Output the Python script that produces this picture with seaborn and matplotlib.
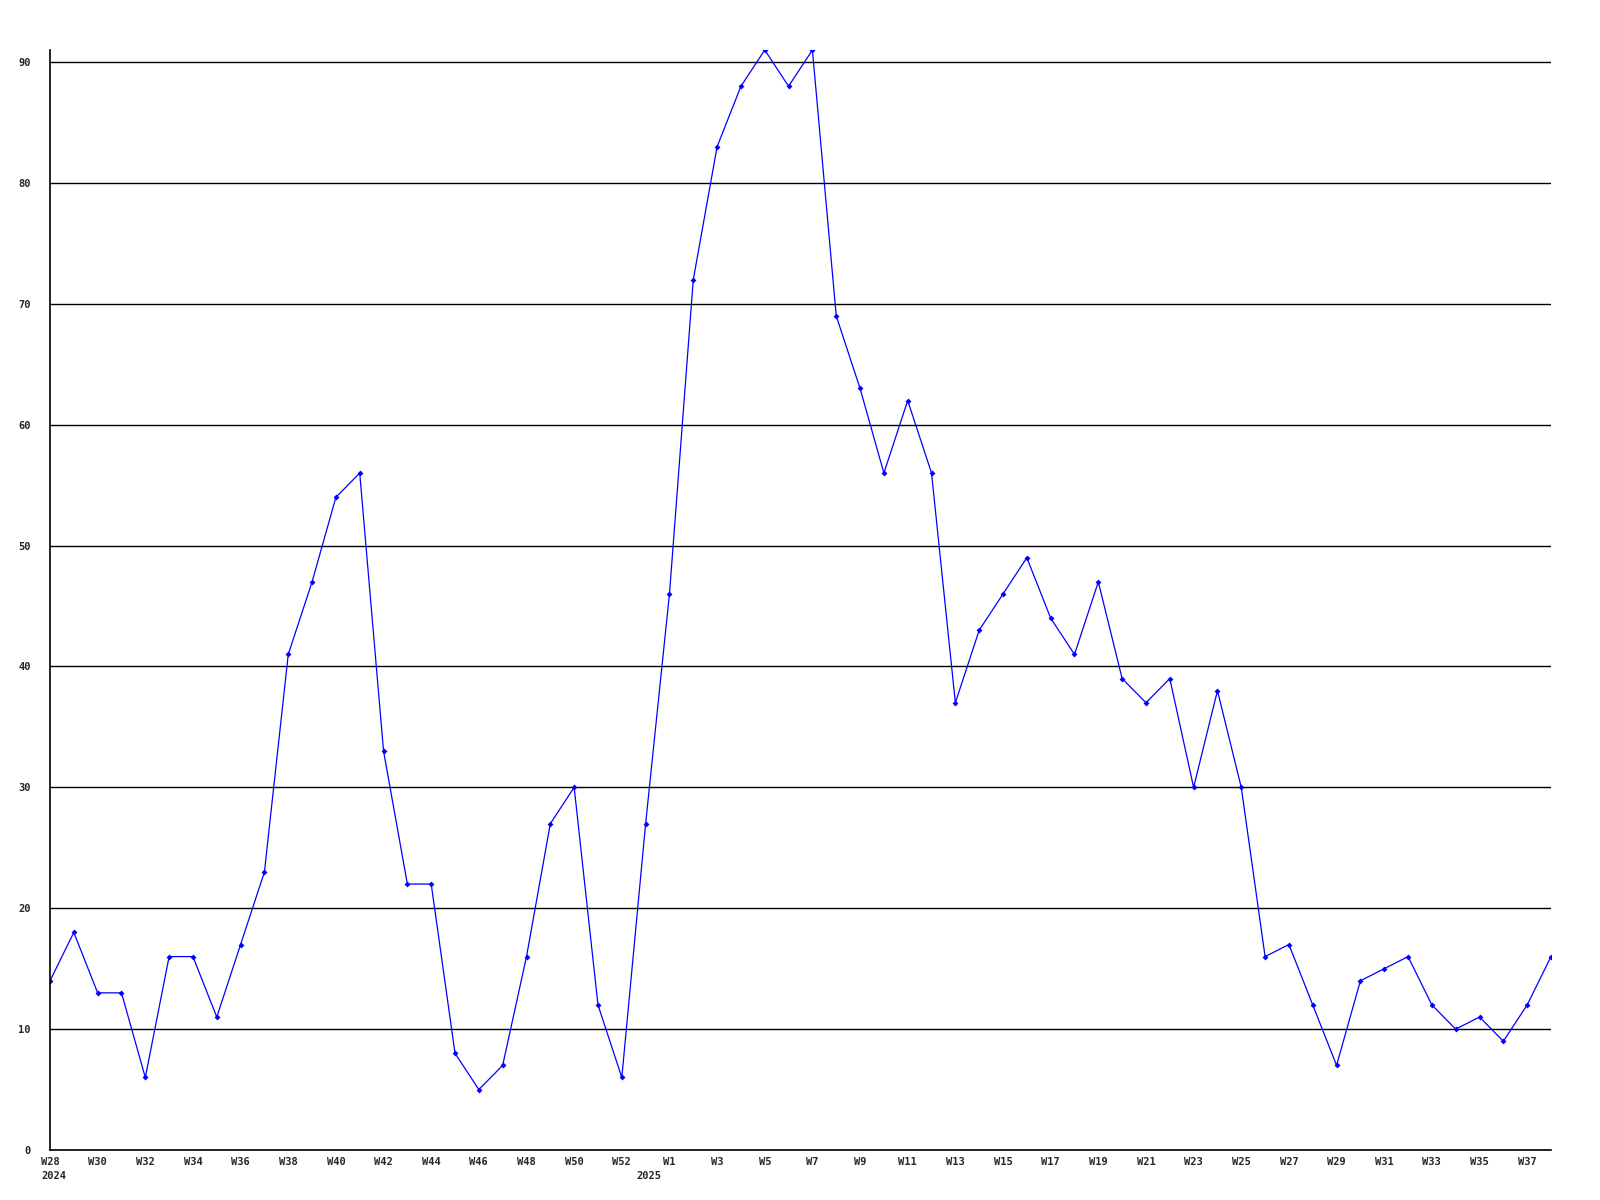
import matplotlib
matplotlib.use("Agg")
import matplotlib.pyplot as plt
import seaborn as sns
import pandas as pd

# weekly counts, W28 2024 .. W38 2025 (one extra point between W52 and W1)
weeks = ["W28", "W29", "W30", "W31", "W32", "W33", "W34", "W35", "W36", "W37",
         "W38", "W39", "W40", "W41", "W42", "W43", "W44", "W45", "W46", "W47",
         "W48", "W49", "W50", "W51", "W52", "W53",
         "W1", "W2", "W3", "W4", "W5", "W6", "W7", "W8", "W9", "W10",
         "W11", "W12", "W13", "W14", "W15", "W16", "W17", "W18", "W19", "W20",
         "W21", "W22", "W23", "W24", "W25", "W26", "W27", "W28", "W29", "W30",
         "W31", "W32", "W33", "W34", "W35", "W36", "W37", "W38"]
values = [14, 18, 13, 13, 6, 16, 16, 11, 17, 23,
          41, 47, 54, 56, 33, 22, 22, 8, 5, 7,
          16, 27, 30, 12, 6, 27,
          46, 72, 83, 88, 91, 88, 91, 69, 63, 56,
          62, 56, 37, 43, 46, 49, 44, 41, 47, 39,
          37, 39, 30, 38, 30, 16, 17, 12, 7, 14,
          15, 16, 12, 10, 11, 9, 12, 16]
year_labels = {0: "2024", 25: "2025"}

df = pd.DataFrame({"idx": range(len(values)), "value": values})

sns.set_style("white")
plt.rcParams["font.family"] = ["DejaVu Sans Mono"]

fig = plt.figure(figsize=(16, 12), dpi=100)
ax = fig.add_axes([50 / 1600, 50 / 1200, 1501 / 1600, 1100 / 1200])

sns.lineplot(data=df, x="idx", y="value", ax=ax, color="#0000ff",
             linewidth=0.9, marker="D", markersize=3, markeredgewidth=0)

ax.set_xlim(0, len(values) - 1)
ax.set_ylim(0, max(values))
ax.set_yticks(range(0, 91, 10))
ax.set_yticklabels([str(v) for v in range(0, 91, 10)], fontsize=7.5, fontweight="bold")
ax.yaxis.grid(True, color="black", linewidth=1)
ax.set_axisbelow(True)

# week labels every other point, the extra point between W52 and W1 is unlabeled
ticks = list(range(0, 25, 2)) + list(range(26, len(values), 2))
ax.set_xticks(ticks)
ax.set_xticklabels([weeks[i] for i in ticks], fontsize=7.5, fontweight="bold")
for pos, yr in year_labels.items():
    ax.text(pos + 0.15, -0.019, yr, transform=ax.get_xaxis_transform(),
            ha="center", va="top", fontsize=7.5, fontweight="bold")

ax.tick_params(axis="x", length=0, pad=5)
ax.tick_params(axis="y", length=0, pad=14)
ax.set_xlabel("")
ax.set_ylabel("")
for s in ["top", "right"]:
    ax.spines[s].set_visible(False)
for s in ["left", "bottom"]:
    ax.spines[s].set_color("black")
    ax.spines[s].set_linewidth(1.2)

fig.savefig("out.png", dpi=100, facecolor="white")
